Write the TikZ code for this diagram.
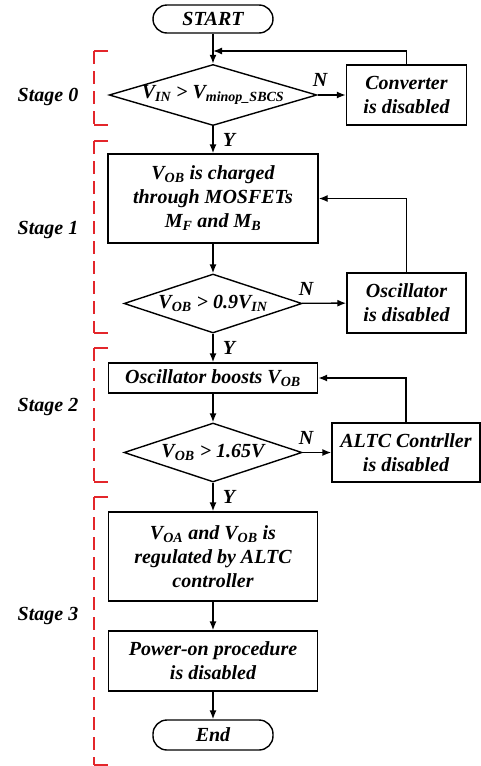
\documentclass[tikz,border=0pt]{standalone}
\usepackage{fontspec}
\setmainfont{Liberation Serif}
\usetikzlibrary{arrows.meta,shapes.geometric}
\definecolor{stagered}{HTML}{E3262B}

\begin{document}
\begin{tikzpicture}[x=1pt,y=-1pt,line width=1.4pt,
    font=\fontsize{20}{24}\selectfont\bfseries\itshape,
    proc/.style={draw,align=center,inner sep=1pt},
    term/.style={draw,rounded corners=14pt,minimum width=120pt,inner sep=0pt},
    cond/.style={draw,diamond,aspect=3.4,inner sep=0pt},
    flow/.style={-{Latex[length=9pt,width=7pt]}}]
  \useasboundingbox (0,0) rectangle (481,766);
  \node[term,minimum height=28pt] (start) at (213,19) {START};
  \node[cond,minimum width=207pt,minimum height=58pt] (vin) at (213,95)
    {V\textsubscript{IN} > V\textsubscript{minop\_SBCS}};
  \node[proc,minimum width=120pt,minimum height=60pt] (conv) at (406.5,95)
    {Converter\\is disabled};
  \node[proc,minimum width=210pt,minimum height=89pt] (chg) at (213,198.5)
    {V\textsubscript{OB} is charged\\through MOSFETs\\M\textsubscript{F} and M\textsubscript{B}};
  \node[cond,minimum width=178pt,minimum height=59pt] (ob1) at (213,303.5)
    {V\textsubscript{OB} > 0.9V\textsubscript{IN}};
  \node[proc,minimum width=119pt,minimum height=60pt] (osc) at (406.5,303)
    {Oscillator\\is disabled};
  \node[proc,minimum width=209pt,minimum height=30pt] (boost) at (213,378)
    {Oscillator boosts V\textsubscript{OB}};
  \node[cond,minimum width=178pt,minimum height=59pt] (ob2) at (213,452.5)
    {V\textsubscript{OB} > 1.65V};
  \node[proc,minimum width=148pt,minimum height=59pt] (altc) at (406,452.5)
    {ALTC Contrller\\is disabled};
  \node[proc,minimum width=209pt,minimum height=89pt] (reg) at (213,556.5)
    {V\textsubscript{OA} and V\textsubscript{OB} is\\regulated by ALTC\\controller};
  \node[proc,minimum width=209pt,minimum height=60pt] (pwr) at (213,661)
    {Power-on procedure\\is disabled};
  \node[term,minimum height=30pt] (end) at (213,735) {End};

  \node (n0) at (320,80) {N};
  \node (n1) at (306,289) {N};
  \node (n2) at (306,438) {N};
  \node (y0) at (229,140) {Y};
  \node (y1) at (229,348) {Y};
  \node (y2) at (229,497) {Y};

  \coordinate (j0) at (213,51);
  \draw[flow] (start) -- (vin);
  \draw[flow] (vin) -- (conv);
  \draw[flow] (conv.north) |- (j0);
  \draw[flow] (vin) -- (chg);
  \draw[flow] (chg) -- (ob1);
  \draw[flow] (ob1) -- (osc);
  \draw[flow] (osc.north) |- (chg.east);
  \draw[flow] (ob1) -- (boost);
  \draw[flow] (boost) -- (ob2);
  \draw[flow] (ob2) -- (altc);
  \draw[flow] (altc.north) |- (boost.east);
  \draw[flow] (ob2) -- (reg);
  \draw[flow] (reg) -- (pwr);
  \draw[flow] (pwr) -- (end);

  \foreach \s/\ya/\yb/\yl in {0/51/125/97,1/141/333/230,2/348/482/407,3/497/765/616}{
    \draw[stagered,line width=1.6pt] (108,\ya) -- (94,\ya) (94,\yb) -- (108,\yb);
    \draw[stagered,line width=1.6pt,dash pattern=on 13pt off 7pt] (94,\ya) -- (94,\yb);
    \node (stage\s) at (48,\yl) {Stage \s};
  }
\end{tikzpicture}
\end{document}
